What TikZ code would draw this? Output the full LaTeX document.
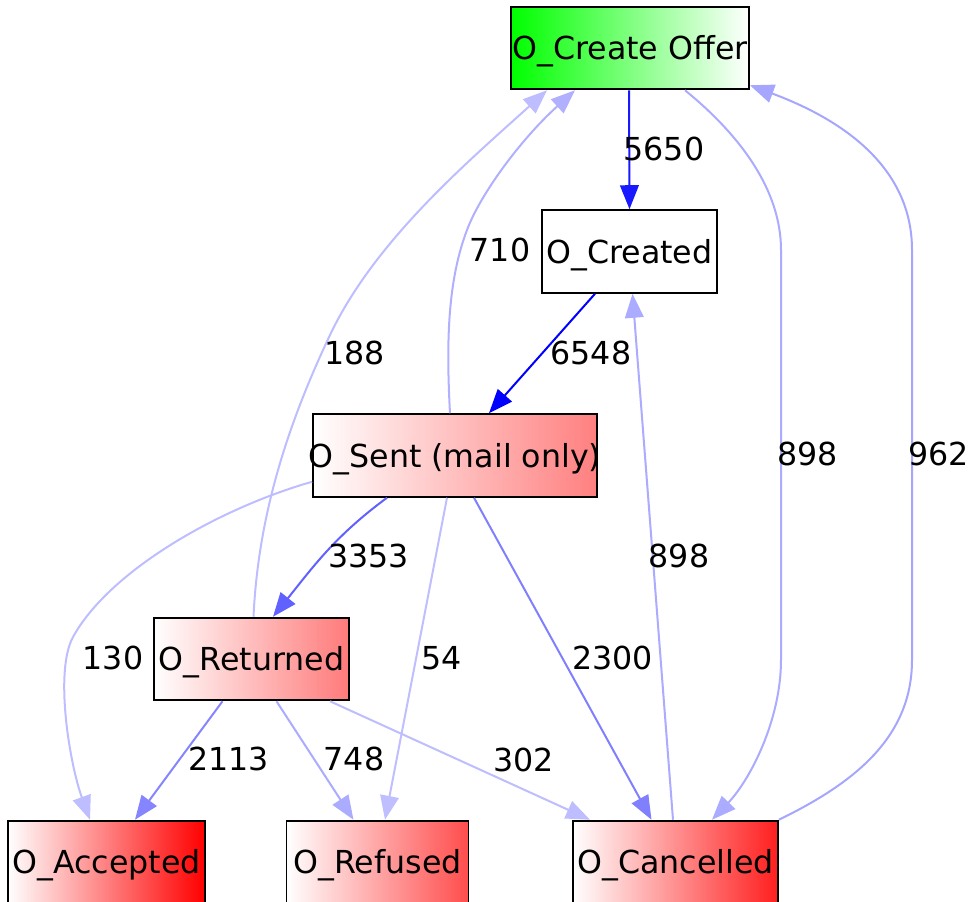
\documentclass[tikz,border=0pt]{standalone}
\usepackage{fontspec}
\setmainfont{DejaVu Sans}
\usetikzlibrary{arrows.meta,calc}

\begin{document}
\begin{tikzpicture}[x=0.75pt,y=-0.75pt,
    font=\fontsize{23.75}{28}\selectfont,
    act/.style={draw=black,line width=1.4pt,inner sep=0pt,minimum height=62pt,text height=17.3pt,text depth=0pt},
    lbl/.style={inner sep=0pt,text height=17.3pt,text depth=0pt},
    flow/.style={line width=1.5pt,-{Triangle[length=18pt,width=14pt]}}]
    \useasboundingbox (0,0) rectangle (968,902);
    % activities
    \node[act,minimum width=178.5pt,left color=green,right color=white] (co) at (630,48) {O\_Create Offer};
    \node[act,minimum width=131.25pt] (cr) at (629.5,251.5) {O\_Created};
    \node[act,minimum width=213pt,left color=white,right color=red!50] (sent) at (455,455.5) {\makebox[0pt]{O\_Sent (mail only)}};
    \node[act,minimum width=146.25pt,left color=white,right color=red!52] (ret) at (251.5,659) {O\_Returned};
    \node[act,minimum width=147.75pt,left color=white,right color=red] (acc) at (106.5,862) {O\_Accepted};
    \node[act,minimum width=136.5pt,left color=white,right color=red!70] (ref) at (377.5,862) {O\_Refused};
    \node[act,minimum width=153.75pt,left color=white,right color=red!88] (can) at (675.5,862) {O\_Cancelled};
    % flows
    \draw[flow,blue!90] ($(co.south)+(-1,0)$) -- (cr.north);
    \draw[flow,blue] ($(cr.south)+(-34.5,0)$) -- ($(sent.north)+(34,0)$);
    \draw[flow,blue!62] ($(sent.south)+(-68,0)$) .. controls (335,536) and (313,567) .. ($(ret.north)+(21.5,0)$);
    \draw[flow,blue!31] ($(sent.north)+(-5,0)$) .. controls (446,340) and (448,280) .. (467,230)
        .. controls (480,195) and (520,140) .. ($(co.south)+(-55,0)$);
    \draw[flow,blue!26] ($(ret.north)+(2,0)$) .. controls (258,520) and (285,430) .. (330,335)
        .. controls (375,240) and (470,160) .. ($(co.south)+(-83,0)$);
    \draw[flow,blue!33] ($(co.south)+(55,0)$) .. controls (740,135) and (781,190) .. (781,250) -- (781,660)
        .. controls (781,720) and (750,780) .. ($(can.north)+(36.5,0)$);
    \draw[flow,blue!35] (can.north east) .. controls (850,785) and (912,740) .. (912,660) -- (912,250)
        .. controls (912,160) and (830,115) .. ($(co.south east)+(0,-5)$);
    \draw[flow,blue!33] ($(can.north)+(-2.5,0)$) -- ($(cr.south)+(3,0)$);
    \draw[flow,blue!50] ($(sent.south)+(19,0)$) -- ($(can.north)+(-24,0)$);
    \draw[flow,blue!25] ($(sent.south)+(-8,0)$) -- ($(ref.north)+(7.5,0)$);
    \draw[flow,blue!26] ($(sent.south west)+(0,-16)$) .. controls (220,508) and (110,570) .. (73,637)
        .. controls (54,672) and (70,765) .. ($(acc.north)+(-16.5,0)$);
    \draw[flow,blue!48] ($(ret.south)+(-29,0)$) -- ($(acc.north)+(28.5,0)$);
    \draw[flow,blue!33] ($(ret.south)+(25,0)$) -- ($(ref.north)+(-24,0)$);
    \draw[flow,blue!26] ($(ret.south)+(78.5,0)$) -- ($(can.north)+(-85.5,0)$);
    % counts
    \node[lbl] (n1) at (664,148.5) {5650};
    \node[lbl] (n2) at (591,352.5) {6548};
    \node[lbl] (n3) at (500,250) {710};
    \node[lbl] (n4) at (354.5,352.5) {188};
    \node[lbl] (n5) at (807.5,453.5) {898};
    \node[lbl] (n6) at (938.5,453.5) {962};
    \node[lbl] (n7) at (368.5,555.5) {3353};
    \node[lbl] (n8) at (679,555.5) {898};
    \node[lbl] (n9) at (113,657.5) {130};
    \node[lbl] (n10) at (442,657.5) {54};
    \node[lbl] (n11) at (612.5,657.5) {2300};
    \node[lbl] (n12) at (228.8,759) {2113};
    \node[lbl] (n13) at (354,759) {748};
    \node[lbl] (n14) at (523.5,759.5) {302};
\end{tikzpicture}
\end{document}
